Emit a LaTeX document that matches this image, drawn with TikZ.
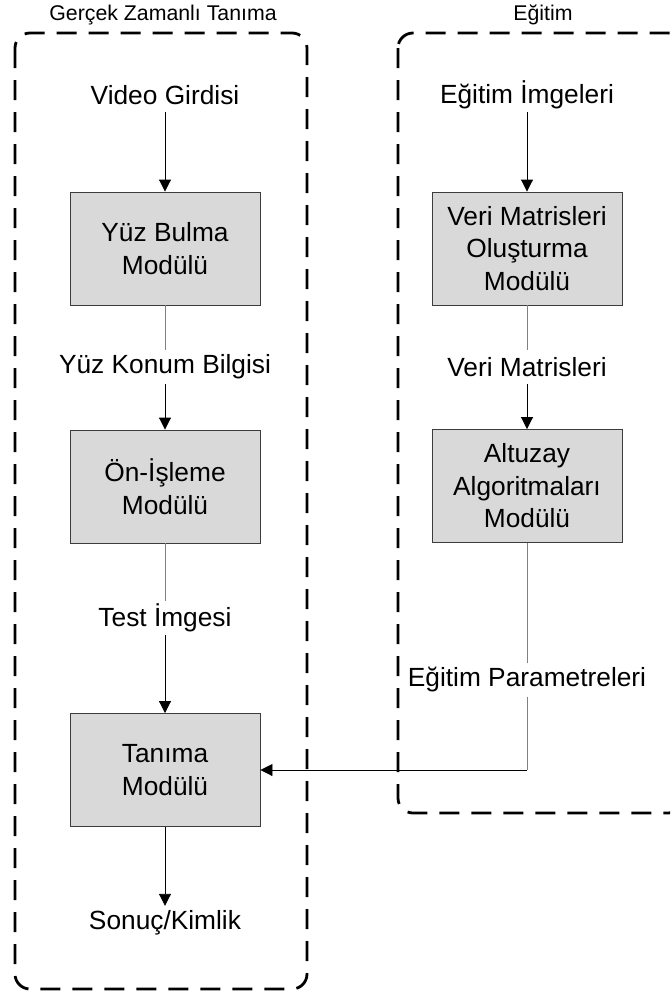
\documentclass[tikz,border=0pt]{standalone}
\usepackage{fontspec}
\setmainfont{Liberation Sans}
\usetikzlibrary{arrows.meta}
\definecolor{boxfill}{RGB}{217,217,217}
\definecolor{boxedge}{RGB}{60,60,60}
\definecolor{linkgray}{RGB}{128,128,128}
\begin{document}
\begin{tikzpicture}[x=1pt,y=-1pt,
  module/.style={draw=boxedge, fill=boxfill, line width=0.9pt,
    minimum width=190pt, minimum height=113pt, align=center, inner sep=0pt,
    font=\fontsize{26.3}{32.5}\selectfont},
  flowtext/.style={inner sep=0pt, minimum height=34pt, align=center,
    font=\fontsize{26.3}{32.5}\selectfont},
  grouptitle/.style={inner sep=0pt, font=\fontsize{21.3}{25}\selectfont},
  frame/.style={line width=2.8pt, dash pattern=on 20pt off 12pt, rounded corners=15pt},
  flow/.style={draw=black, line width=0.9pt, -{Triangle[length=12pt,width=12pt]}},
  plain/.style={draw=linkgray, line width=1pt}]
\useasboundingbox (0,0) rectangle (670,994);
\clip (0,0) rectangle (670,994);

% group frames
\draw[frame] (15,33) rectangle (307,989);
\draw[frame] (398,33) rectangle (683,813);
\node[grouptitle] (rtitle) at (163,15) {Gerçek Zamanlı Tanıma};
\node[grouptitle] (ttitle) at (543,15) {Eğitim};

% real-time recognition chain
\node[flowtext] (video) at (165,95) {Video Girdisi};
\node[module] (face) at (165,248.5) {Yüz Bulma\\Modülü};
\node[flowtext] (loc) at (165,367) {Yüz Konum Bilgisi};
\node[module] (pre) at (165,486.5) {Ön-İşleme\\Modülü};
\node[flowtext] (test) at (165,618) {Test İmgesi};
\node[module] (rec) at (165,770) {Tanıma\\Modülü};
\node[flowtext] (out) at (165,923) {Sonuç/Kimlik};

% training chain
\node[flowtext] (timg) at (527,95) {Eğitim İmgeleri};
\node[module] (mat) at (527,248.5) {Veri Matrisleri\\Oluşturma\\Modülü};
\node[flowtext] (matl) at (527,367) {Veri Matrisleri};
\node[module] (sub) at (527,486) {Altuzay\\Algoritmaları\\Modülü};
\node[flowtext] (par) at (527,680) {Eğitim Parametreleri};
\coordinate (bend) at (par.south |- rec.east);

% connectors
\draw[flow] (video) -- (face);
\draw[plain] (face) -- (loc);
\draw[flow] (loc) -- (pre);
\draw[plain] (pre) -- (test);
\draw[flow] (test) -- (rec);
\draw[flow] (rec) -- (out);

\draw[flow] (timg) -- (mat);
\draw[plain] (mat) -- (matl);
\draw[flow] (matl) -- (sub);
\draw[plain] (sub) -- (par);
\draw[plain] (par) -- (bend);
\draw[flow] (bend) -- (rec.east);
\end{tikzpicture}
\end{document}
